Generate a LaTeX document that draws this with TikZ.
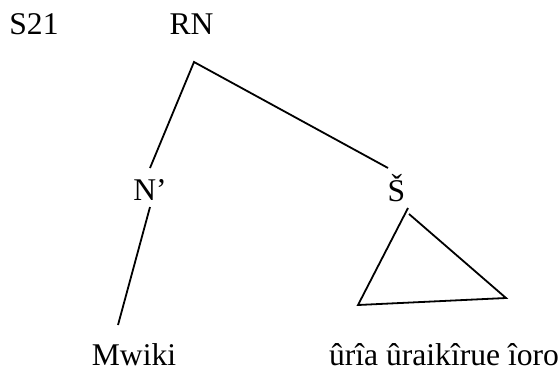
\documentclass[tikz,border=0pt]{standalone}
\usepackage{fontspec}
\setmainfont{Liberation Serif}
\usepackage{tikz}
\usetikzlibrary{positioning}

\begin{document}
\begin{tikzpicture}[x=0.5pt,y=-0.5pt,font=\fontsize{15.8}{19}\selectfont,
  lbl/.style={anchor=base,inner sep=0pt},
  branch/.style={draw=black,line width=0.9pt}]
\path[use as bounding box] (0,0) rectangle (560,369);
% labels
\node[lbl] (s21) at (34,35) {S21};
\node[lbl] (rn) at (191.5,35) {RN};
\node[lbl] (nbar) at (150,200) {N’};
\node[lbl] (sh) at (396.5,201) {Š};
\node[lbl] (mwiki) at (134,365) {Mwiki};
\node[lbl] (phrase) at (444,365) {ûrîa ûraikîrue îoro};
% branch ends
\coordinate (apex) at (194,62);
\coordinate (nbar-up) at (150,168);
\coordinate (nbar-down) at (150,207);
\coordinate (mwiki-up) at (118,325);
\coordinate (sh-up) at (388,168);
\coordinate (tri-a) at (408,208);
\coordinate (tri-b) at (358,305);
\coordinate (tri-c) at (506,298);
\coordinate (tri-d) at (409,214);
\draw[branch] (nbar-up) -- (apex) -- (sh-up);
\draw[branch] (nbar-down) -- (mwiki-up);
\draw[branch] (tri-a) -- (tri-b) -- (tri-c) -- (tri-d);
\end{tikzpicture}
\end{document}
